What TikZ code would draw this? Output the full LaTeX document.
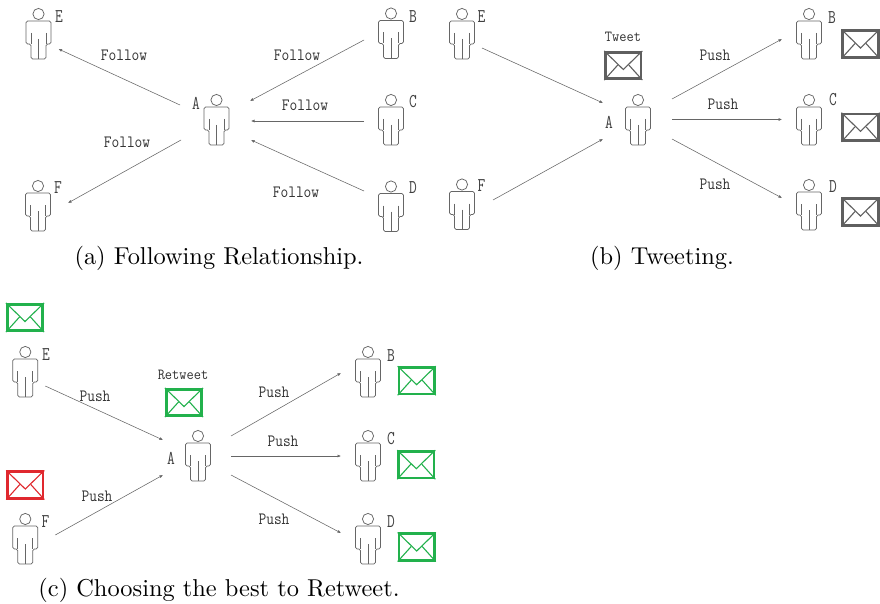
\documentclass[tikz,border=0pt]{standalone}
\usepackage{fontspec}
\usetikzlibrary{arrows.meta}
\newfontfamily\capfont{lmroman10-regular.otf}
\definecolor{grayenv}{HTML}{5F5F5F}
\definecolor{greenenv}{HTML}{22B14C}
\definecolor{redenv}{HTML}{E0282E}
\tikzset{x=1pt,y=-1pt,
  figline/.style={draw=black!60,line width=0.75pt},
  conn/.style={draw=black!60,line width=0.55pt,-{Latex[length=3.5pt,width=3pt]}},
  lab/.style={font=\fontsize{15}{15}\ttfamily,text=black!80,inner sep=0pt,yscale=1.15,transform shape},
  smalllab/.style={font=\fontsize{14}{15}\ttfamily,text=black!80,inner sep=0pt,yscale=1.1,transform shape},
  letter/.style={font=\fontsize{15}{15}\ttfamily,text=black!75,inner sep=0pt,yscale=1.3,transform shape},
  captext/.style={font=\fontsize{24.4}{26}\capfont,text=black,inner sep=0pt},
  anchorbox/.style={inner sep=0pt,minimum width=25pt,minimum height=52pt},
  envbox/.style={draw=#1,line width=2.6pt,minimum width=35.5pt,minimum height=26.5pt,inner sep=0pt}
}
% person: node name, head-centre x, y
\newcommand{\person}[3]{%
  \node[anchorbox] (#1) at (#2,#3+22.5) {};
  \draw[figline] ([yshift=22.5pt]#1.center) circle (5.6pt);
  \draw[figline,rounded corners=1.6pt]
    ([shift={(-7.5,22.5)}]#1.center) -- ([shift={(-7.5,7.5)}]#1.center) --
    ([shift={(-12.5,7.5)}]#1.center) -- ([shift={(-12.5,-15.5)}]#1.center) --
    ([shift={(12.5,-15.5)}]#1.center) -- ([shift={(12.5,7.5)}]#1.center) --
    ([shift={(7.5,7.5)}]#1.center) -- ([shift={(7.5,22.5)}]#1.center) -- cycle;
  \draw[figline] ([shift={(-7.5,-3.5)}]#1.center) -- ([shift={(-7.5,7.5)}]#1.center);
  \draw[figline] ([shift={(7.5,-3.5)}]#1.center) -- ([shift={(7.5,7.5)}]#1.center);
  \draw[figline] ([shift={(0,2.5)}]#1.center) -- ([shift={(0,22.5)}]#1.center);
}
% envelope: name, colour, centre x, y
\newcommand{\envelope}[4]{%
  \node[envbox=#2] (#1) at (#3,#4) {};
  \draw[#2,line width=1.1pt] (#1.north west) -- ([shift={(0,4)}]#1.center) -- (#1.north east);
  \draw[#2,line width=1.1pt] (#1.south west) -- ([shift={(-5.5,-0.5)}]#1.center);
  \draw[#2,line width=1.1pt] (#1.south east) -- ([shift={(5.5,-0.5)}]#1.center);
}
% connector: from node, offset, to node, offset
\newcommand{\link}[4]{\draw[conn] ([shift={#2}]#1.center) -- ([shift={#4}]#3.center);}
\begin{document}
\begin{tikzpicture}
\useasboundingbox (0,0) rectangle (880,604);
\fill[white] (0,0) rectangle (880,604);
% (a)
\person{aE}{38.5}{14}\person{aF}{38}{186}\person{aA}{216.5}{100}
\person{aB}{391}{13.5}\person{aC}{391}{100}\person{aD}{391}{186.5}
\node[letter] (laE) at (59,17) {E};
\node[letter] (laF) at (58,188) {F};
\node[letter] (laA) at (196,103) {A};
\node[letter] (laB) at (413,17) {B};
\node[letter] (laC) at (413,102) {C};
\node[letter] (laD) at (413,188) {D};
\link{aA}{(-36.5,-17.5)}{aE}{(20,12.5)}
\link{aA}{(-35.5,17.5)}{aF}{(30,-5.5)}
\link{aB}{(-27,4)}{aA}{(33.5,-21.5)}
\link{aC}{(-27,-1.5)}{aA}{(34.5,-1.5)}
\link{aD}{(-27,-18)}{aA}{(34.5,17.5)}
\node[lab] (f1) at (124,55) {Follow};
\node[lab] (f2) at (127,142) {Follow};
\node[lab] (f3) at (297,55) {Follow};
\node[lab] (f4) at (305,105) {Follow};
\node[lab] (f5) at (296,192) {Follow};
\node[captext] (ca) at (219,258.5) {(a) Following Relationship.};
% (b)
\person{bE}{462}{14}\person{bF}{462}{184.5}\person{bA}{638}{100}
\person{bB}{809}{14}\person{bC}{809}{100}\person{bD}{809}{185}
\node[letter] (lbE) at (481.5,17) {E};
\node[letter] (lbF) at (481.5,185.5) {F};
\node[letter] (lbA) at (609,122) {A};
\node[letter] (lbB) at (832,18) {B};
\node[letter] (lbC) at (833,99.5) {C};
\node[letter] (lbD) at (833,187) {D};
\link{bE}{(20,11.5)}{bA}{(-35,-19.5)}
\link{bF}{(31,-7)}{bA}{(-35,16.5)}
\link{bA}{(34,-23.5)}{bB}{(-27,2.5)}
\link{bA}{(34,-3)}{bC}{(-27,-3)}
\link{bA}{(34,16.5)}{bD}{(-27,-9.5)}
\node[lab] (p1) at (715,55) {Push};
\node[lab] (p2) at (723,104) {Push};
\node[lab] (p3) at (715,184) {Push};
\node[smalllab] (tw) at (623,37) {Tweet};
\envelope{ebT}{grayenv}{623.3}{65.5}
\envelope{ebB}{grayenv}{860.5}{44}
\envelope{ebC}{grayenv}{860.5}{127.3}
\envelope{ebD}{grayenv}{860.5}{212}
\node[captext] (cb) at (662,258.5) {(b) Tweeting.};
% (c)
\person{cE}{25.3}{352}\person{cF}{25.3}{519}\person{cA}{198}{436}
\person{cB}{368}{352}\person{cC}{368}{436}\person{cD}{368}{519}
\node[letter] (lcE) at (46,354.5) {E};
\node[letter] (lcF) at (45.5,522) {F};
\node[letter] (lcA) at (171,458) {A};
\node[letter] (lcB) at (391,355.5) {B};
\node[letter] (lcC) at (391,439) {C};
\node[letter] (lcD) at (391,522) {D};
\link{cE}{(20,11.5)}{cA}{(-35,-18.5)}
\link{cF}{(30,-6.5)}{cA}{(-35,16.5)}
\link{cA}{(33,-22.5)}{cB}{(-27,-1.5)}
\link{cA}{(33,-2.5)}{cC}{(-27,-2.5)}
\link{cA}{(33,16.5)}{cD}{(-27,-8.5)}
\node[lab] (q1) at (95,396) {Push};
\node[lab] (q2) at (97,496) {Push};
\node[lab] (q3) at (274,392) {Push};
\node[lab] (q4) at (283,441) {Push};
\node[lab] (q5) at (274,519) {Push};
\node[smalllab] (rt) at (183,375) {Retweet};
\envelope{ecE}{greenenv}{25}{317.5}
\envelope{ecF}{redenv}{25.3}{485}
\envelope{ecR}{greenenv}{184}{402.5}
\envelope{ecB}{greenenv}{416.7}{380.7}
\envelope{ecC}{greenenv}{416.3}{464.7}
\envelope{ecD}{greenenv}{416.7}{547}
\node[captext] (cc) at (219,590.5) {(c) Choosing the best to Retweet.};
\end{tikzpicture}
\end{document}
